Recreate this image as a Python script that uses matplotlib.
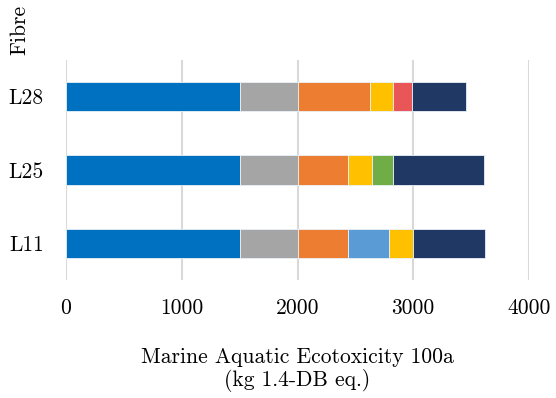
import numpy as np
import matplotlib
matplotlib.use("Agg")
import matplotlib.pyplot as plt

plt.rcParams['font.family'] = ['cmr10', 'DejaVu Serif']
plt.rcParams['axes.formatter.use_mathtext'] = True

fibres = ["L11", "L25", "L28"]
# stacked contributions (kg 1.4-DB eq.), bottom-to-top order L11, L25, L28
blue = [1500, 1500, 1500]
gray = [500, 500, 500]
orange = [439, 439, 629]
light_blue = [352, 0, 0]
yellow = [203, 205, 199]
green = [0, 178, 0]
red = [0, 0, 157]
navy = [626, 785, 472]

series = [blue, gray, orange, light_blue, yellow, green, red, navy]
colors = ["#0070C0", "#A5A5A5", "#ED7D31", "#5B9BD5", "#FFC000",
          "#70AD47", "#E85657", "#203864"]

fig = plt.figure(figsize=(5.56, 3.98), dpi=100)
ax = fig.add_axes([66/556, 1-280/398, (529-66)/556, 220/398])

y = np.arange(len(fibres))
left = np.zeros(len(fibres))
for vals, c in zip(series, colors):
    vals = np.array(vals, dtype=float)
    ax.barh(y, vals, left=left, height=0.4, color=c,
            edgecolor="#EAF1F8", linewidth=0.6, zorder=3)
    left += vals

ax.set_xlim(0, 4000)
ax.set_ylim(-0.5, 2.5)
ax.set_xticks([0, 1000, 2000, 3000, 4000])
ax.set_xticklabels(["0", "1000", "2000", "3000", "4000"])
ax.set_yticks(y)
ax.set_yticklabels(fibres)
ax.tick_params(axis="x", length=0, pad=13, labelsize=15.5)
ax.tick_params(axis="y", length=0, pad=16, labelsize=15.5)
ax.grid(axis="x", color="#D9D9D9", linewidth=1.5, zorder=0)
for s in ax.spines.values():
    s.set_visible(False)

fig.text(20/556, 1-30/398, "Fibre", rotation=90, ha="center", va="center",
         fontsize=15.5)
fig.text(297/556, 1-370/398, "Marine Aquatic Ecotoxicity 100a\n(kg 1.4-DB eq.)",
         ha="center", va="center", multialignment="center", fontsize=15.5,
         linespacing=1.12)

fig.savefig("out.png", dpi=100)
